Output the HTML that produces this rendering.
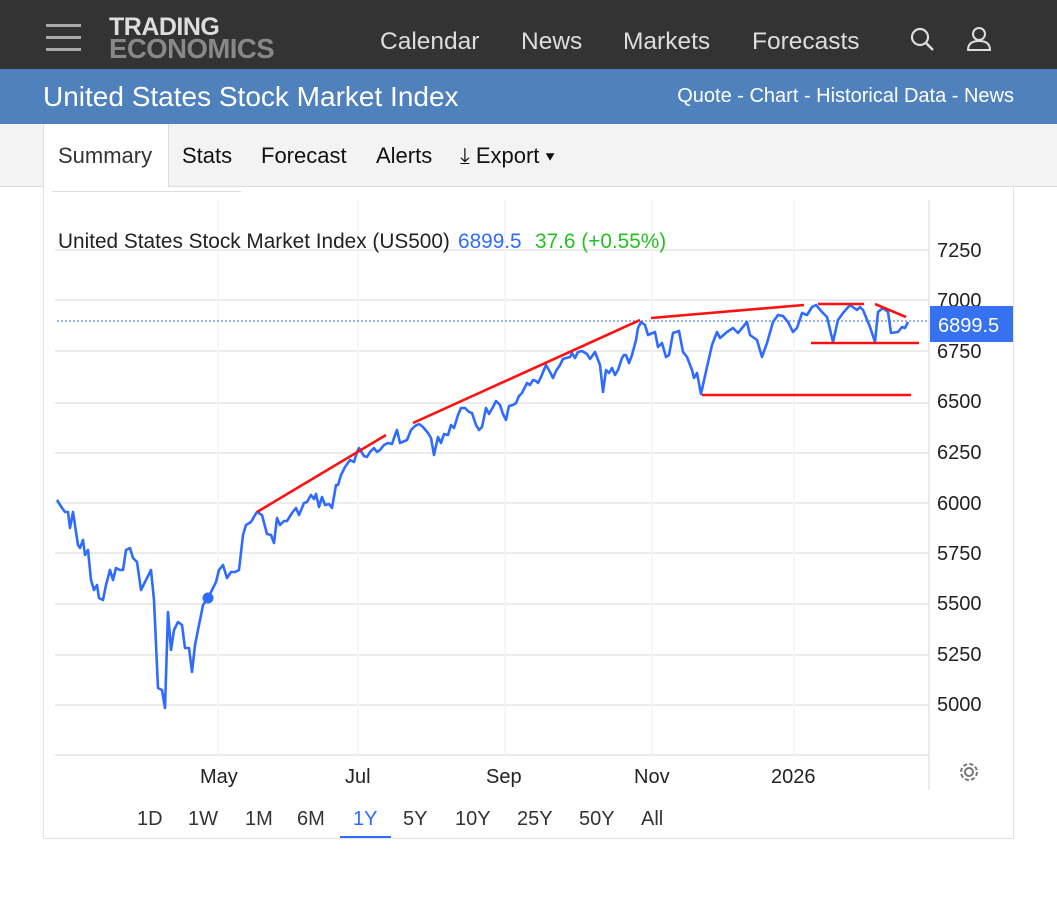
<!DOCTYPE html>
<html><head><meta charset="utf-8"><style>
body{margin:0;width:1057px;height:901px;background:#fff;font-family:"Liberation Sans",Arial,sans-serif;position:relative;overflow:hidden}
.nav{position:absolute;left:0;top:0;width:1057px;height:69px;background:#333}
.nav .it{position:absolute;top:28px;color:#ddd;font-size:24.5px}
.bar{position:absolute;left:0;top:69px;width:1057px;height:55px;background:#4f81bd;color:#fff}
.tabs{position:absolute;left:0;top:124px;width:1057px;height:62px;background:#f3f3f3;border-bottom:1px solid #ddd}
.tab{position:absolute;top:19px;font-size:22px;color:#111}
.card{position:absolute;left:43px;top:186px;width:969px;height:652px;border:1px solid #e3e3e3;border-top:none}
.btn{position:absolute;top:808px;font-size:20px;color:#333}
</style></head><body>
<div class="nav">
 <div style="position:absolute;left:46px;top:24px;width:35px;height:3px;background:#aaa;box-shadow:0 12px 0 #aaa,0 24px 0 #aaa"></div>
 <div style="position:absolute;left:109px;top:17px;font-weight:bold;font-size:25px;line-height:21px;color:#ddd;letter-spacing:-0.5px">TRADING<br><span style="color:#888;font-size:27.5px">ECONOMICS</span></div>
 <div class="it" style="left:380px">Calendar</div><div class="it" style="left:521px">News</div><div class="it" style="left:623px">Markets</div><div class="it" style="left:752px">Forecasts</div>
 <svg style="position:absolute;left:908px;top:25px" width="90" height="30"><circle cx="12" cy="12" r="8" fill="none" stroke="#ddd" stroke-width="2.2"/><line x1="18" y1="18" x2="25" y2="25" stroke="#ddd" stroke-width="2.5"/><circle cx="71" cy="9" r="6" fill="none" stroke="#ddd" stroke-width="2"/><path d="M60 25 Q60 16 71 16 Q82 16 82 25 Z" fill="none" stroke="#ddd" stroke-width="2"/></svg>
</div>
<div class="bar"><div style="position:absolute;left:43px;top:12px;font-size:28px">United States Stock Market Index</div><div style="position:absolute;right:43px;top:16px;font-size:20px">Quote - Chart - Historical Data - News</div></div>
<div class="tabs">
 <div style="position:absolute;left:43px;top:0;width:124px;height:63px;background:#fff;border-left:1px solid #ddd;border-right:1px solid #ddd"></div>
 <div class="tab" style="left:58px;color:#333">Summary</div><div class="tab" style="left:182px">Stats</div><div class="tab" style="left:261px">Forecast</div><div class="tab" style="left:376px">Alerts</div><div class="tab" style="left:460px">⤓ Export ▾</div>
</div>
<div class="card"></div>
<div style="position:absolute;left:52px;top:191px;width:189px;height:1px;background:#ddd"></div>
<svg style="position:absolute;left:0;top:0" width="1057" height="901">
<g stroke="#e6e6e6" stroke-width="1.5">
<line x1="55" y1="250" x2="929" y2="250"/><line x1="55" y1="300" x2="929" y2="300"/><line x1="55" y1="351" x2="929" y2="351"/><line x1="55" y1="403" x2="929" y2="403"/><line x1="55" y1="453" x2="929" y2="453"/><line x1="55" y1="503" x2="929" y2="503"/><line x1="55" y1="553" x2="929" y2="553"/><line x1="55" y1="604" x2="929" y2="604"/><line x1="55" y1="655" x2="929" y2="655"/><line x1="55" y1="705" x2="929" y2="705"/><line x1="55" y1="755" x2="929" y2="755"/>
</g>
<g stroke="#f0f4f9" stroke-width="1.5"><line x1="218" y1="200" x2="218" y2="755"/><line x1="358" y1="200" x2="358" y2="755"/><line x1="505" y1="200" x2="505" y2="755"/><line x1="652" y1="200" x2="652" y2="755"/><line x1="794" y1="200" x2="794" y2="755"/><line x1="929" y1="200" x2="929" y2="790" stroke="#e6e6e6"/></g>
<line x1="57" y1="321" x2="929" y2="321" stroke="#3366ee" stroke-width="1" stroke-dasharray="2,2"/>
<polyline fill="none" stroke="#2f6bff" stroke-width="2.6" stroke-linejoin="round" points="57,500 62,508 65,512 68,512 70,528 73,512 76,532 78,545 80,548 83,540 85,555 88,550 91,580 94,590 97,585 99,598 103,600 106,585 110,570 113,580 116,568 120,570 123,570 126,550 130,548 133,558 137,562 141,590 145,582 151,570 154,600 158,688 162,690 165,708 168,612 171,650 174,630 178,622 182,625 185,648 189,648 192,672 195,645 200,620 203,605 208,598 212,590 216,582 219,570 223,565 227,578 231,572 235,572 239,570 243,535 246,525 251,522 255,515 257,512 262,515 267,534 271,535 274,543 277,518 280,525 284,521 287,521 292,513 296,508 299,515 304,503 307,502 311,495 314,499 316,494 319,507 322,497 325,505 329,504 332,508 336,485 338,485 341,475 345,467 350,460 354,462 357,452 359,448 364,456 367,457 370,452 374,448 377,452 380,450 384,445 388,443 392,444 394,438 397,430 400,443 407,440 411,430 415,426 419,424 423,427 428,433 431,438 434,455 438,437 441,443 444,434 448,435 451,425 454,428 458,415 461,408 465,408 469,412 472,413 476,425 479,430 482,427 486,408 489,414 493,407 496,401 500,405 503,414 506,420 509,406 513,405 516,403 519,396 522,393 527,383 530,385 533,380 536,381 538,383 541,377 546,365 550,372 553,378 556,371 560,365 563,359 566,358 570,357 572,353 575,358 578,352 582,351 587,354 590,359 595,352 600,365 603,392 606,370 609,373 612,368 615,375 618,370 622,358 624,355 626,355 629,363 632,355 636,340 638,328 641,322 645,325 648,335 655,332 658,347 662,343 666,357 669,355 673,333 679,331 683,352 687,357 692,370 694,378 697,373 701,394 707,367 712,345 717,332 720,338 727,332 733,328 738,333 747,322 750,335 757,340 762,357 767,343 773,322 778,315 783,316 788,322 793,332 797,328 802,313 807,315 812,307 816,305 822,312 827,317 833,342 838,320 843,313 850,305 857,310 860,307 863,310 870,327 875,342 878,312 883,308 888,312 891,333 898,332 902,327 905,328 908,322"/>
<circle cx="208" cy="598" r="5.5" fill="#2f6bff"/>
<g stroke="#ff1010" stroke-width="2.6">
<line x1="257" y1="512" x2="386" y2="435"/><line x1="413" y1="423" x2="640" y2="320"/><line x1="651" y1="318" x2="804" y2="305"/><line x1="818" y1="304" x2="864" y2="304"/><line x1="875" y1="304" x2="906" y2="317"/><line x1="811" y1="343" x2="919" y2="343"/><line x1="702" y1="395" x2="911" y2="395"/>
</g>
<g font-size="20" fill="#222" font-family="Liberation Sans,sans-serif">
<text x="937" y="257">7250</text><text x="937" y="307">7000</text><text x="937" y="358">6750</text><text x="937" y="408">6500</text><text x="937" y="459">6250</text><text x="937" y="510">6000</text><text x="937" y="560">5750</text><text x="937" y="610">5500</text><text x="937" y="661">5250</text><text x="937" y="711">5000</text>
<text x="200" y="783">May</text><text x="345" y="783">Jul</text><text x="486" y="783">Sep</text><text x="634" y="783">Nov</text><text x="771" y="783">2026</text>
</g>
<rect x="930" y="306" width="83" height="36" fill="#3672f0"/>
<text x="938" y="332" font-size="20" fill="#fff">6899.5</text>
<text y="248" font-size="20.8" fill="#222"><tspan x="58">United States Stock Market Index (US500)</tspan><tspan x="458" fill="#2f6bff">6899.5</tspan><tspan x="535" fill="#22c022">37.6 (+0.55%)</tspan></text>
<g transform="translate(969,772)" fill="none" stroke="#777" stroke-width="2"><circle r="4"/><circle r="8" stroke-dasharray="4,2.3"/></g>
<line x1="340" y1="837" x2="391" y2="837" stroke="#2f6bff" stroke-width="2"/>
</svg>
<div class="btn" style="left:137px">1D</div><div class="btn" style="left:188px">1W</div><div class="btn" style="left:245px">1M</div><div class="btn" style="left:297px">6M</div><div class="btn" style="left:353px;color:#2f6bff">1Y</div><div class="btn" style="left:403px">5Y</div><div class="btn" style="left:455px">10Y</div><div class="btn" style="left:517px">25Y</div><div class="btn" style="left:579px">50Y</div><div class="btn" style="left:641px">All</div>
</body></html>
